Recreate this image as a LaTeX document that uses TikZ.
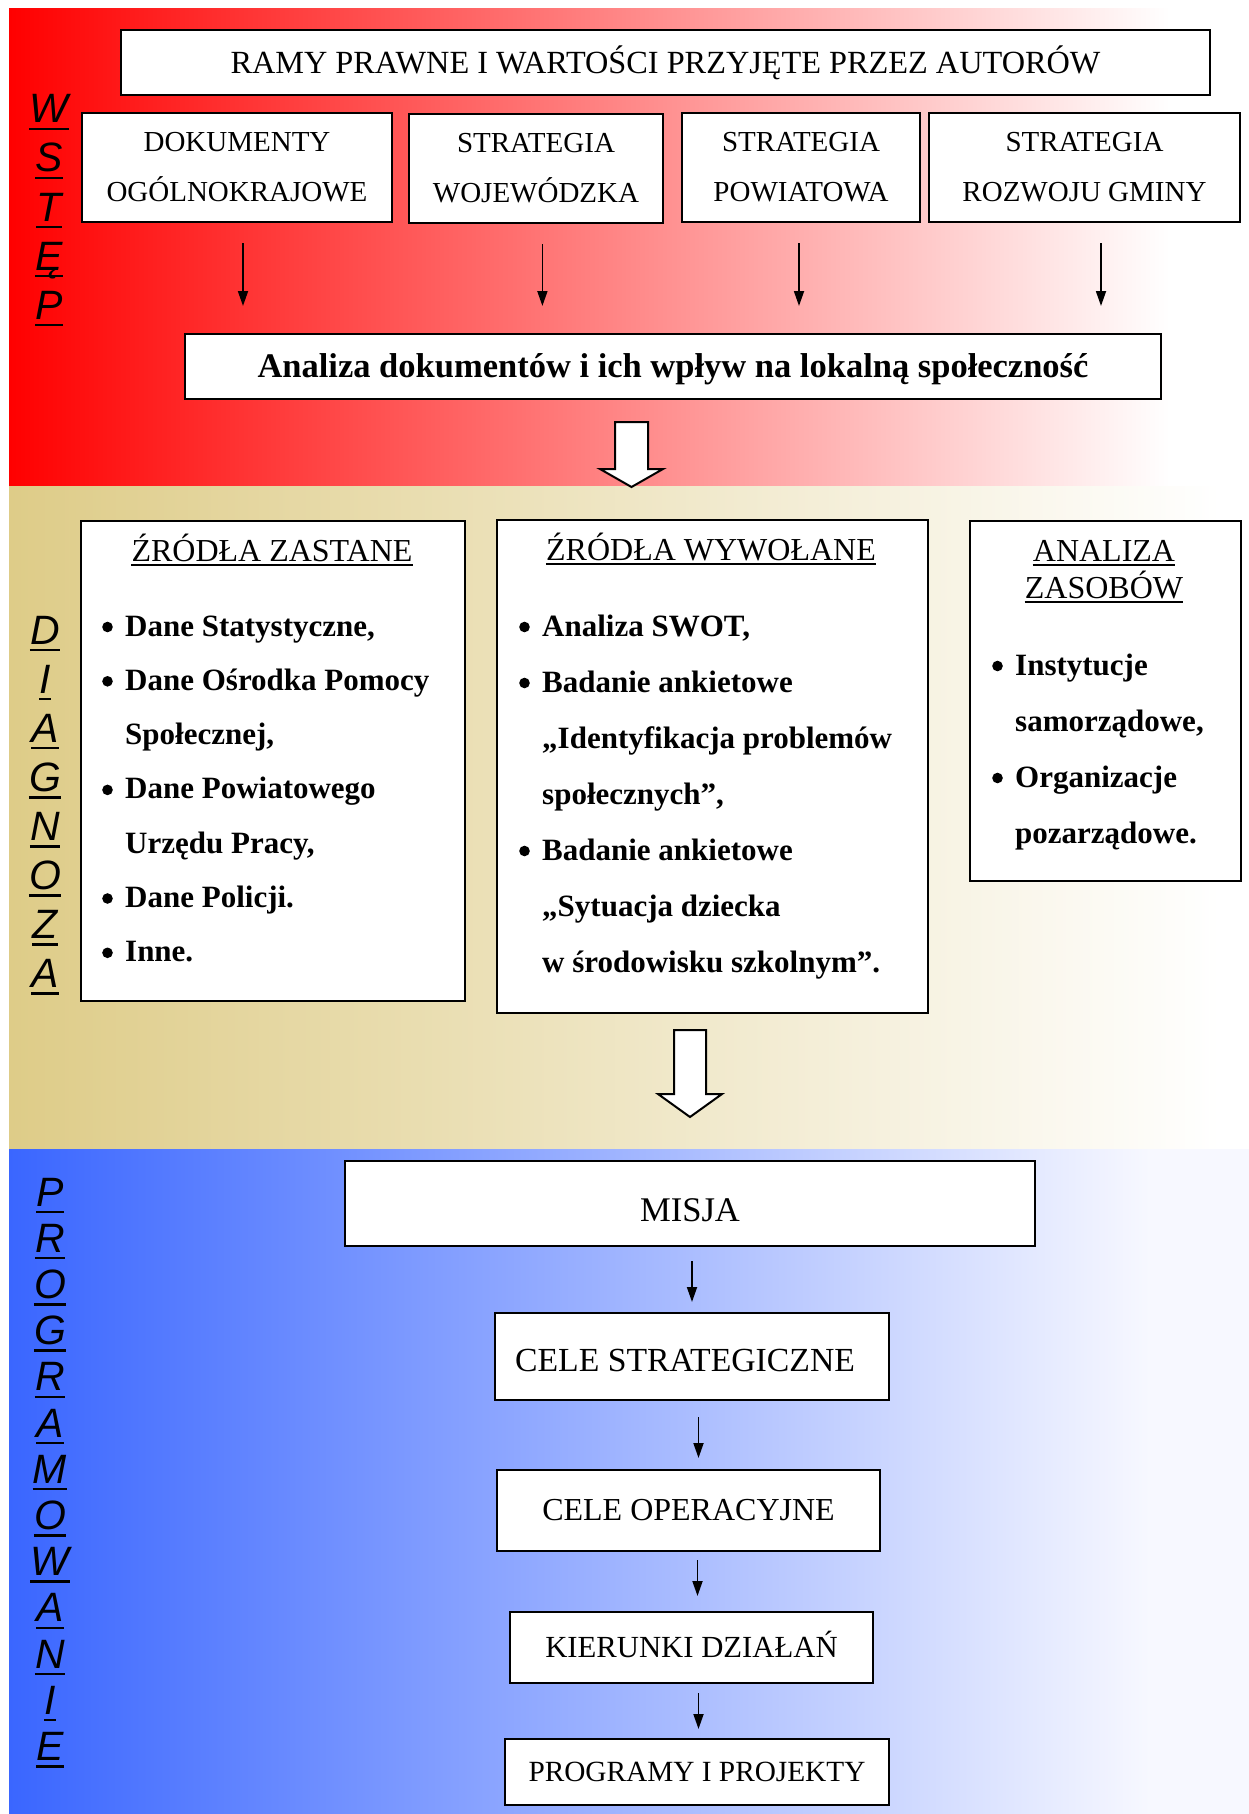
\documentclass[tikz,border=0pt]{standalone}
\usepackage{fontspec}
\setmainfont{Liberation Serif}
\setsansfont{Liberation Sans}
\usepackage{tikz}
\usetikzlibrary{arrows.meta,calc}

\definecolor{beige}{RGB}{222,204,136}
\definecolor{bandblue}{RGB}{58,102,255}
\definecolor{bluewhite}{RGB}{247,248,255}

\newcommand{\bul}{\makebox[23pt][l]{\tikz[baseline=0pt]\fill (5.5pt,9pt) circle (5.3pt);}}
\newcommand{\ind}{\hspace*{23pt}}

\tikzset{
  box/.style={draw, line width=2pt, fill=white, align=center, inner sep=0pt, font=\fontsize{29}{50}\selectfont},
  arr/.style={line width=1.8pt, -{Triangle[length=15pt,width=10pt]}},
  hollow/.style={draw, line width=2pt, fill=white},
  vlet/.style={anchor=base, inner sep=0pt, font=\fontsize{41}{41}\selectfont\sffamily\itshape},
  uline/.style={line width=2.5pt},
  tline/.style={line width=1.6pt},
  title/.style={anchor=base, inner sep=0pt, font=\fontsize{32}{32}\selectfont},
  item/.style={anchor=base west, inner sep=0pt, font=\fontsize{31}{31}\selectfont\bfseries}
}

\begin{document}
\begin{tikzpicture}[x=1pt,y=1pt]
\useasboundingbox (0,0) rectangle (1249,-1814);

\shade[left color=red, middle color=red!40!white, right color=white] (9,-9) rectangle (1170,-486);
\shade[left color=beige, right color=white] (9,-486) rectangle (1220,-1149);
\shade[left color=bandblue, right color=bluewhite] (9,-1149) rectangle (1150,-1814);
\fill[bluewhite] (1150,-1149) rectangle (1249,-1814);

\foreach \ch [count=\i] in {W,S,T,Ę,P} {
  \node[vlet] (w\i) at (49,{-123-49*(\i-1)}) {\ch};
  \draw[uline] ([yshift=-6pt]w\i.base west) -- ([yshift=-6pt]w\i.base east);
}
\foreach \ch [count=\i] in {D,I,A,G,N,O,Z,A} {
  \node[vlet] (d\i) at (45,{-644-49.1*(\i-1)}) {\ch};
  \draw[uline] ([yshift=-6pt]d\i.base west) -- ([yshift=-6pt]d\i.base east);
}
\foreach \ch [count=\i] in {P,R,O,G,R,A,M,O,W,A,N,I,E} {
  \node[vlet] (p\i) at (50,{-1206-46.2*(\i-1)}) {\ch};
  \draw[uline] ([yshift=-6pt]p\i.base west) -- ([yshift=-6pt]p\i.base east);
}

\node[box, minimum width=1089pt, minimum height=65pt, font=\fontsize{32.3}{32.3}\selectfont] (ramy) at (665.5,-62.5) {RAMY PRAWNE I WARTOŚCI PRZYJĘTE PRZEZ AUTORÓW};
\node[box, minimum width=310pt, minimum height=109pt] (dok) at (237,-167.5) {DOKUMENTY\\OGÓLNOKRAJOWE};
\node[box, minimum width=254pt, minimum height=109pt] (woj) at (536,-168.5) {STRATEGIA\\WOJEWÓDZKA};
\node[box, minimum width=238pt, minimum height=109pt] (pow) at (801,-167.5) {STRATEGIA\\POWIATOWA};
\node[box, minimum width=311pt, minimum height=109pt] (gmi) at (1084.5,-167.5) {STRATEGIA\\ROZWOJU GMINY};
\node[box, minimum width=976pt, minimum height=65pt, text height=30pt, font=\fontsize{34.5}{34.5}\selectfont\bfseries] (anal) at (673,-366.5) {Analiza dokumentów i ich wpływ na lokalną społeczność};

\foreach \b/\dx in {dok/6,woj/6.4,pow/-2,gmi/16.5}
  \draw[arr, shorten <=20pt, shorten >=27pt] ($(\b.south)+(\dx,0)$) -- ($(\b.south |- anal.north)+(\dx,0)$);

\coordinate (p1) at (631.5,-422);
\draw[hollow] (p1) ++(-16.5,0) -- ++(0,-47) -- ++(-15,0) -- ++(31.5,-18) -- ++(31.5,18) -- ++(-15,0) -- ++(0,47) -- cycle;

\node[box, minimum width=384pt, minimum height=480pt] (zast) at (273,-761) {};
\node[box, minimum width=431pt, minimum height=493pt] (wyw) at (712.5,-766.5) {};
\node[box, minimum width=271pt, minimum height=360pt] (zas) at (1105.5,-701) {};

\node[title] (t1) at (272,-561) {ŹRÓDŁA ZASTANE};
\node[title] (t2) at (711,-560) {ŹRÓDŁA WYWOŁANE};
\node[title] (t3) at (1104,-561) {ANALIZA};
\node[title] (t4) at (1104,-598) {ZASOBÓW};
\foreach \t in {t1,t2,t3,t4}
  \draw[tline] ([yshift=-4pt]\t.base west) -- ([yshift=-4pt]\t.base east);

\foreach \t [count=\i] in {{\bul Dane Statystyczne,}, {\bul Dane Ośrodka Pomocy}, {\ind Społecznej,}, {\bul Dane Powiatowego}, {\ind Urzędu Pracy,}, {\bul Dane Policji.}, {\bul Inne.}}
  \node[item] (z\i) at (102,{-636-54.3*(\i-1)}) {\t};
\foreach \t [count=\i] in {{\bul Analiza SWOT,}, {\bul Badanie ankietowe}, {\ind „Identyfikacja problemów}, {\ind społecznych”,}, {\bul Badanie ankietowe}, {\ind „Sytuacja dziecka}, {\ind w środowisku szkolnym”.}}
  \node[item] (y\i) at (519,{-636-56*(\i-1)}) {\t};
\foreach \t [count=\i] in {{\bul Instytucje}, {\ind samorządowe,}, {\bul Organizacje}, {\ind pozarządowe.}}
  \node[item] (a\i) at (992,{-675-56*(\i-1)}) {\t};

\coordinate (p2) at (690,-1030);
\draw[hollow] (p2) ++(-16,0) -- ++(0,-64) -- ++(-16,0) -- ++(32,-23) -- ++(32,23) -- ++(-16,0) -- ++(0,64) -- cycle;

\node[box, minimum width=690pt, minimum height=85pt, text height=36pt, font=\fontsize{34.6}{34.6}\selectfont] (misja) at (690,-1203.5) {MISJA};
\node[box, minimum width=394pt, minimum height=87pt, text height=31pt, font=\fontsize{33.7}{33.7}\selectfont] (cs) at (692,-1356.5) {CELE STRATEGICZNE\hspace*{14pt}};
\node[box, minimum width=383pt, minimum height=81pt, font=\fontsize{32}{32}\selectfont] (co) at (688.5,-1510.5) {CELE OPERACYJNE};
\node[box, minimum width=363pt, minimum height=71pt, text height=20pt, font=\fontsize{30.7}{30.7}\selectfont] (kd) at (691.5,-1647.5) {KIERUNKI DZIAŁAŃ};
\node[box, minimum width=384pt, minimum height=66pt, font=\fontsize{29.3}{29.3}\selectfont] (pp) at (697,-1772) {PROGRAMY I PROJEKTY};

\foreach \a/\b/\dx/\s/\e in {misja/cs/0/14/10, cs/co/10/16/11, co/kd/6/8/15, kd/pp/1.5/9/9}
  \draw[arr, shorten <=\s pt, shorten >=\e pt] ($(\b.north |- \a.south)+(\dx,0)$) -- ($(\b.north)+(\dx,0)$);
\end{tikzpicture}
\end{document}
